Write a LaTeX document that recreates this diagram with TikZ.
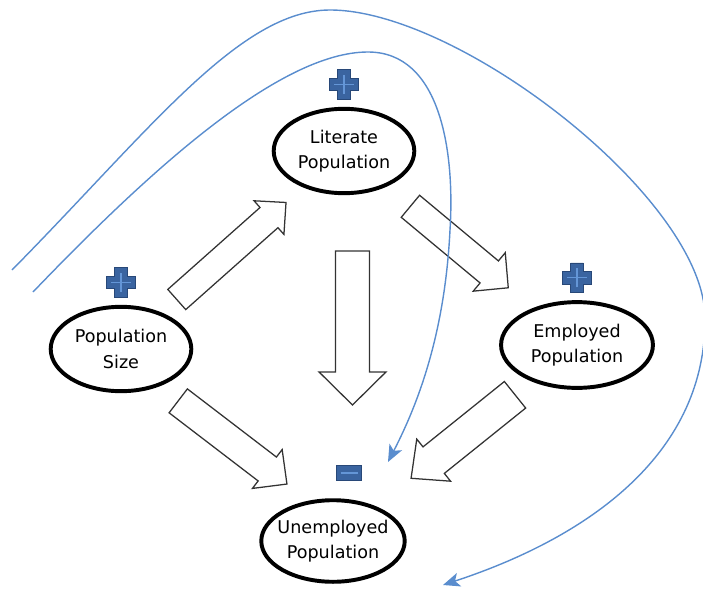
\documentclass[tikz,border=0pt]{standalone}
\usepackage{fontspec}
\setmainfont{DejaVu Sans}
\usetikzlibrary{shapes.geometric,calc,positioning,arrows.meta}
\definecolor{loopblue}{RGB}{90,141,206}
\definecolor{signblue}{RGB}{58,100,160}
\definecolor{signlight}{RGB}{100,150,215}
\definecolor{signdark}{RGB}{40,72,120}
\tikzset{
  plus/.pic={\fill[signblue, draw=signdark, line width=0.5pt] (-4.5pt,10.5pt) -- (4.5pt,10.5pt) -- (4.5pt,4.5pt) -- (10.5pt,4.5pt) -- (10.5pt,-4.5pt) -- (4.5pt,-4.5pt) -- (4.5pt,-10.5pt) -- (-4.5pt,-10.5pt) -- (-4.5pt,-4.5pt) -- (-10.5pt,-4.5pt) -- (-10.5pt,4.5pt) -- (-4.5pt,4.5pt) -- cycle;
    \draw[signlight, line width=1.2pt] (-7pt,0pt) -- (7pt,0pt) (0pt,-7pt) -- (0pt,7pt);},
  minus/.pic={\fill[signblue, draw=signdark, line width=0.5pt] (-9pt,-5.3pt) rectangle (9pt,5.3pt);
    \draw[signlight, line width=1.6pt] (-6pt,0pt) -- (6pt,0pt);}
}
% tail, tip, half shaft, half head, head length
\newcommand\fatarr[5]{%
  \path[fat] let \p1=(#1), \p2=(#2), \n1={atan2(\y2-\y1,\x2-\x1)} in
    ($(\p1)+(\n1+90:#3)$) -- ($(\p2)+(\n1+180:#5)+(\n1+90:#3)$) -- ($(\p2)+(\n1+180:#5)+(\n1+90:#4)$)
    -- (\p2) -- ($(\p2)+(\n1+180:#5)+(\n1-90:#4)$) -- ($(\p2)+(\n1+180:#5)+(\n1-90:#3)$)
    -- ($(\p1)+(\n1-90:#3)$) -- cycle;}
\begin{document}
\begin{tikzpicture}[x=0.025cm, y=-0.025cm,
  bub/.style={ellipse, draw, line width=2.8pt, minimum width=100pt, minimum height=60pt, inner sep=-8pt, align=center, font=\fontsize{12.5}{18}\selectfont},
  fat/.style={draw=black!80, fill=white, line width=0.9pt, line join=miter},
  loop/.style={loopblue, line width=1pt, -{Stealth[length=12pt, width=10pt, inset=3pt]}}]
\useasboundingbox (0,0) rectangle (703,591);
\node[bub] (lit) at (344,151) {Literate\\Population};
\node[bub] (pop) at (121,349) {Population\\Size};
\node[bub, minimum width=108pt, minimum height=61pt] (emp) at (577,345) {Employed\\Population};
\node[bub, minimum width=102pt, minimum height=58pt] (unemp) at (333,541) {Unemployed\\Population};
\pic at ([yshift=16pt]lit.north) {plus};
\pic at ([yshift=16pt]pop.north) {plus};
\pic at ([yshift=16pt]emp.north) {plus};
\pic at ([xshift=11.5pt, yshift=18pt]unemp.north) {minus};
\fatarr{$(pop)!0.25!(lit)$}{$(pop)!0.74!(lit)$}{9.6pt}{16pt}{16.2pt}
\fatarr{$(lit)!0.285!(emp)$}{$(lit)!0.705!(emp)$}{10.2pt}{17.8pt}{17.6pt}
\fatarr{$(lit)+(8.5,100)$}{$(unemp)+(19.5,-136)$}{12.1pt}{23.8pt}{23.5pt}
\fatarr{$(pop)!0.27!(unemp)$}{$(pop)!0.745!(unemp)+(8,-8)$}{10.7pt}{17.4pt}{17.6pt}
\fatarr{$(emp)!0.254!(unemp)$}{$(emp)!0.68!(unemp)$}{12.1pt}{19.2pt}{20.6pt}
\coordinate (o1) at (12,270);
\coordinate (i1) at (33,292);
\coordinate (otip) at ($(unemp)+(110,44)$);
\coordinate (itip) at ($(unemp)+(55,-79)$);
\draw[loop] (o1) .. controls (150,130) and (240,10) .. (330,10) .. controls (460,10) and (705,200) .. (705,318) .. controls (706,450) and (595,535) .. (otip);
\draw[loop] (i1) .. controls (150,170) and (280,52) .. (368,52) .. controls (440,52) and (455,150) .. (450,230) .. controls (445,330) and (420,400) .. (itip);
\end{tikzpicture}
\end{document}
